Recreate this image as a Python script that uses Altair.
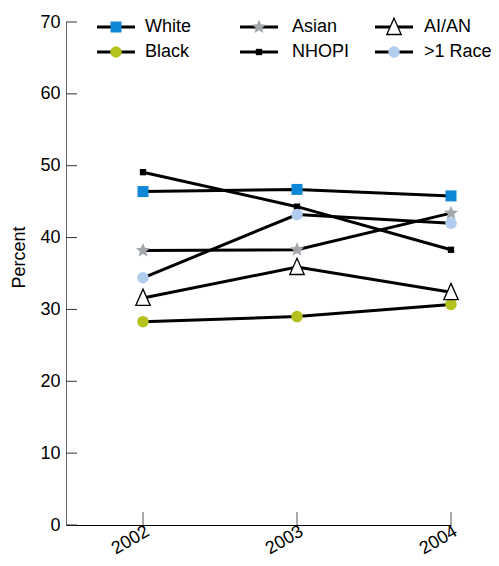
import math
import altair as alt
import pandas as pd

# ---- data ----
years = [2002, 2003, 2004]
series = ["White", "Asian", "AI/AN", "Black", "NHOPI", ">1 Race"]
white = [46.4, 46.7, 45.8]
black = [28.3, 29.0, 30.7]
asian = [38.2, 38.3, 43.4]
nhopi = [49.1, 44.3, 38.3]
aian = [31.6, 35.9, 32.4]
multi = [34.4, 43.2, 42.0]
y_ticks = [0, 10, 20, 30, 40, 50, 60, 70]

# drawing order (later rows on top)
values = {"White": white, "Black": black, "NHOPI": nhopi,
          ">1 Race": multi, "AI/AN": aian, "Asian": asian}
rows = []
for name, vals in values.items():
    for yr, v in zip(years, vals):
        rows.append({"series": name, "year": yr, "pct": v})
df = pd.DataFrame(rows)

# ---- styles ----
FONT = "Liberation Sans"
W, H = 385, 503
X_DOM = [2001.5, 2004]
Y_DOM = [0, 70]
LW = 3
TRI = "M0,-1L0.82,0.85L-0.82,0.85Z"


def star_path(outer=1.0, inner=0.45):
    pts_ = []
    for k in range(10):
        r = outer if k % 2 == 0 else inner
        a = -math.pi / 2 + k * math.pi / 5
        pts_.append(f"{r * math.cos(a):.3f},{r * math.sin(a):.3f}")
    return "M" + "L".join(pts_) + "Z"


STAR = star_path()
styles = {
    "White":   dict(shape="square", fill="#0d87d6", stroke="#0d87d6", sw=0, size=121),
    "Asian":   dict(shape=STAR, fill="#a3a6aa", stroke="#a3a6aa", sw=0, size=220),
    "AI/AN":   dict(shape=TRI, fill="#ffffff", stroke="#000000", sw=1.3, size=310),
    "Black":   dict(shape="circle", fill="#b5c11c", stroke="#b5c11c", sw=0, size=132),
    "NHOPI":   dict(shape="square", fill="#000000", stroke="#000000", sw=0, size=40),
    ">1 Race": dict(shape="circle", fill="#b0cdf0", stroke="#b0cdf0", sw=0, size=132),
}

xs = alt.Scale(domain=X_DOM, nice=False, zero=False)
ys = alt.Scale(domain=Y_DOM, nice=False, zero=False)

x_enc = alt.X("year:Q", scale=xs,
              axis=alt.Axis(values=years, format="d", labelAngle=330, labelFontSize=18,
                            orient="bottom", ticks=False, grid=False,
                            domainColor="#000000", title=None, labelPadding=-3))
y_enc = alt.Y("pct:Q", scale=ys,
              axis=alt.Axis(values=y_ticks, orient="left", ticks=False, grid=False,
                            title="Percent", titleFontSize=18, titleFontWeight="normal",
                            labelFontSize=18, labelPadding=6, domainColor="#666666",
                            titleX=-47, titleY=235, titleAngle=270,
                            titleAlign="center", titleBaseline="middle"))

lines = alt.Chart(df).mark_line(color="black", strokeWidth=LW).encode(
    x=x_enc, y=y_enc, detail="series:N", order="year:Q")


def pts(data, xf, yf, name):
    st = styles[name]
    return alt.Chart(data).transform_filter(alt.datum.series == name).mark_point(
        filled=True, opacity=1, shape=st["shape"], fill=st["fill"], stroke=st["stroke"],
        strokeWidth=st["sw"], size=st["size"]).encode(
        x=alt.X(xf, scale=xs), y=alt.Y(yf, scale=ys))


point_layers = [pts(df, "year:Q", "pct:Q", n) for n in values]

# inward tick marks
ytick_df = pd.DataFrame({"pct": y_ticks})
yticks = alt.Chart(ytick_df).mark_rule(color="#333333", strokeWidth=1).encode(
    y=alt.Y("pct:Q", scale=ys), x=alt.value(0), x2=alt.value(11))
xtick_df = pd.DataFrame({"year": years})
xticks = alt.Chart(xtick_df).mark_rule(color="#555555", strokeWidth=1).encode(
    x=alt.X("year:Q", scale=xs), y=alt.value(H - 13), y2=alt.value(H))


# ---- legend: layout in pixels inside the plot, converted to the chart's units ----
def px_to_year(px):
    return X_DOM[0] + px * (X_DOM[1] - X_DOM[0]) / W


def px_to_pct(py):
    return Y_DOM[1] - py * (Y_DOM[1] - Y_DOM[0]) / H


line_x0 = [31, 174, 309]
label_x = [79, 226, 358]
row_y = [5, 30]
leg = pd.DataFrame({"series": series})
leg["col"] = leg.index % 3
leg["row"] = leg.index // 3
leg["lx0"] = [px_to_year(line_x0[c]) for c in leg["col"]]
leg["lx1"] = [px_to_year(line_x0[c] + 38) for c in leg["col"]]
leg["lxm"] = [px_to_year(line_x0[c] + 19) for c in leg["col"]]
leg["lxt"] = [px_to_year(label_x[c]) for c in leg["col"]]
leg["ly"] = [px_to_pct(row_y[r]) for r in leg["row"]]

leg_lines = alt.Chart(leg).mark_rule(color="black", strokeWidth=LW).encode(
    x=alt.X("lx0:Q", scale=xs), x2="lx1:Q", y=alt.Y("ly:Q", scale=ys))
leg_points = [pts(leg, "lxm:Q", "ly:Q", n) for n in series]
leg_text = alt.Chart(leg).mark_text(align="left", baseline="middle", fontSize=18,
                                    font=FONT, color="black").encode(
    x=alt.X("lxt:Q", scale=xs), y=alt.Y("ly:Q", scale=ys), text="series:N")

chart = alt.layer(lines, *point_layers, yticks, xticks, leg_lines, *leg_points, leg_text).properties(
    width=W, height=H,
    padding={"left": 58, "top": 14, "right": 40, "bottom": 33},
    autosize=alt.AutoSizeParams(type="none"),
).configure_view(stroke=None).configure_axis(
    labelFont=FONT, titleFont=FONT, labelColor="#000000", titleColor="#000000"
)

chart.save("out.html", embed_options={"renderer": "svg", "actions": False})
